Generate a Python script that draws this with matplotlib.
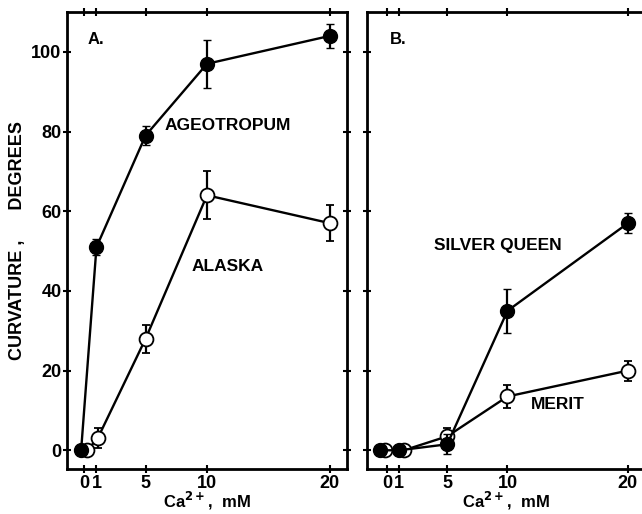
import numpy as np
import matplotlib
matplotlib.use("Agg")
import matplotlib.pyplot as plt

plt.rcParams['font.family'] = ['Liberation Sans', 'DejaVu Sans']
plt.rcParams['font.weight'] = 'bold'

ca = [0, 1, 5, 10, 20]
ticks_x = [0, 1, 5, 10, 20]

# A. ageotropum (filled) / alaska (open)
ageo = [0, 51, 79, 97, 104]
ageo_err = [0, 2, 2.5, 6, 3]
alaska = [0, 3, 28, 64, 57]
alaska_err = [0, 2.5, 3.5, 6, 4.5]

# B. silver queen (filled) / merit (open)
silver = [0, 0, 1.5, 35, 57]
silver_err = [0, 0, 2.5, 5.5, 2.5]
merit = [0, 0, 3.5, 13.5, 20]
merit_err = [0, 0, 2, 3, 2.5]

fig = plt.figure(figsize=(6.42, 5.14), dpi=100)
axA = fig.add_axes([67/642, 1-469/514, (347-67)/642, (469-12)/514])
axB = fig.add_axes([367/642, 1-469/514, (646-367)/642, (469-12)/514])


def panel(ax, xs_f, yf, ef, xs_o, yo, eo, xlim):
    ax.errorbar(xs_o, yo, yerr=eo, color='black', lw=1.7, marker='o', ms=10,
                mfc='white', mec='black', mew=1.3, capsize=3, elinewidth=1.6, zorder=3)
    ax.errorbar(xs_f, yf, yerr=ef, color='black', lw=1.7, marker='o', ms=10,
                mfc='black', mec='black', capsize=3, elinewidth=1.6, zorder=4)
    ax.set_xlim(*xlim)
    ax.set_ylim(-4.7, 110)
    ax.set_xticks(ticks_x)
    ax.set_yticks(range(0, 101, 20))
    for s in ax.spines.values():
        s.set_linewidth(2)
    ax.tick_params(axis='both', which='both', labelsize=13, width=1.5)
    ax.tick_params(axis='x', direction='inout', length=6, top=True, pad=1)
    ax.tick_params(axis='y', direction='inout', length=6, right=True, pad=1)
    ax.set_xlabel('Ca$^{\\mathbf{2+}}$,  mM', fontsize=12, fontweight='bold', labelpad=-1)
    for lab in ax.get_xticklabels() + ax.get_yticklabels():
        lab.set_fontweight('bold')


panel(axA, [-0.25, 1, 5, 10, 20], ageo, ageo_err, [0.25, 1.1, 5, 10, 20], alaska, alaska_err, (-1.4, 21.4))
panel(axB, [-0.6, 1, 5, 10, 20], silver, silver_err, [-0.2, 1.4, 5, 10, 20], merit, merit_err, (-1.66, 21.5))
axB.tick_params(axis='y', labelleft=False)

axA.set_ylabel('CURVATURE ,      DEGREES', fontsize=13, fontweight='bold', labelpad=4)

axA.text(0.3, 103, 'A.', fontsize=12, fontweight='bold', va='center')
axA.text(11.7, 81.5, 'AGEOTROPUM', fontsize=12.5, fontweight='bold', ha='center', va='center')
axA.text(11.7, 46, 'ALASKA', fontsize=12.5, fontweight='bold', ha='center', va='center')
axB.text(0.25, 103, 'B.', fontsize=12, fontweight='bold', va='center')
axB.text(9.2, 51.5, 'SILVER QUEEN', fontsize=12.5, fontweight='bold', ha='center', va='center')
axB.text(14.2, 11.5, 'MERIT', fontsize=12.5, fontweight='bold', ha='center', va='center')

fig.savefig('out.png', dpi=100)
